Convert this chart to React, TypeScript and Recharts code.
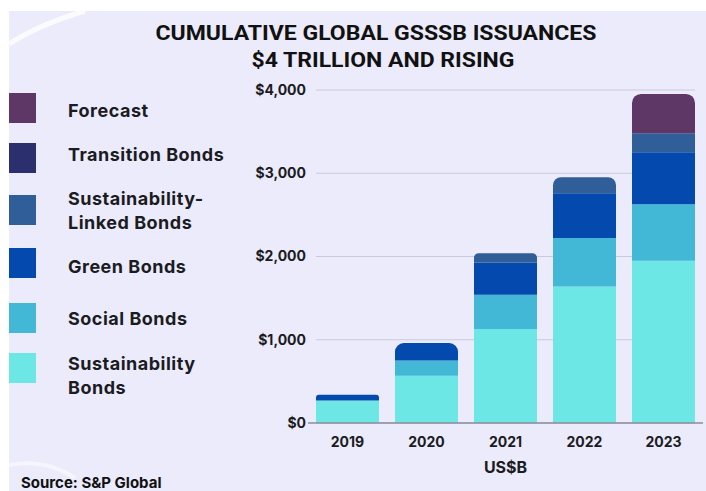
import { BarChart, Bar, XAxis, YAxis, CartesianGrid, Rectangle } from 'recharts'

const YEARS = ['2019', '2020', '2021', '2022', '2023']
const SUSTAINABILITY = [270, 568, 1128, 1640, 1948]
const SOCIAL = [0, 183, 412, 581, 681]
const GREEN = [70, 209, 388, 540, 624]
const SLB = [0, 0, 112, 192, 228]
const TRANSITION = [0, 0, 0, 0, 0]
const FORECAST = [0, 0, 0, 0, 472]
const Y_TICKS = [0, 1000, 2000, 3000, 4000]

// stack order, bottom to top
const SERIES = [
  { key: 'sustainability', name: 'Sustainability Bonds', lines: ['Sustainability', 'Bonds'], color: '#6de6e6' },
  { key: 'social', name: 'Social Bonds', lines: ['Social Bonds'], color: '#42b7d6' },
  { key: 'green', name: 'Green Bonds', lines: ['Green Bonds'], color: '#0449ad' },
  { key: 'slb', name: 'Sustainability-Linked Bonds', lines: ['Sustainability-', 'Linked Bonds'], color: '#2f5e98' },
  { key: 'transition', name: 'Transition Bonds', lines: ['Transition Bonds'], color: '#2c2f6e' },
  { key: 'forecast', name: 'Forecast', lines: ['Forecast'], color: '#5e3766' },
]

const data = YEARS.map((year, i) => ({
  year,
  sustainability: SUSTAINABILITY[i],
  social: SOCIAL[i],
  green: GREEN[i],
  slb: SLB[i],
  transition: TRANSITION[i],
  forecast: FORECAST[i],
}))

const FONT = 'Inter, "Noto Sans", sans-serif'
const BG = '#ebebfb'

const topKey = (row: any) => {
  let top = ''
  SERIES.forEach(s => { if (row[s.key] > 0) top = s.key })
  return top
}

const makeShape = (key: string) => (props: any) => (
  <Rectangle {...props} radius={topKey(props.payload) === key ? [9, 9, 0, 0] : 0} />
)

// legend layout, top to bottom (Forecast first)
const SWATCH_TOPS = [93, 143, 195, 248, 303, 353]
const LABEL_TOPS = [99, 143, 187, 255, 307, 352]

const LegendBlock = () => {
  const items = [...SERIES].reverse()
  return (
    <div style={{ position: 'absolute', left: 0, top: 0, width: 240, height: 400 }}>
      {items.map((s, i) => (
        <div key={s.key}>
          <div style={{
            position: 'absolute', left: 9, top: SWATCH_TOPS[i],
            width: 27, height: 30, background: s.color,
          }} />
          <div style={{
            position: 'absolute', left: 68, top: LABEL_TOPS[i],
            fontFamily: FONT, fontWeight: 700, fontSize: 18, letterSpacing: 0.5,
            lineHeight: '24px', color: '#1b1b22', whiteSpace: 'nowrap',
          }}>
            {s.lines.map(l => <div key={l}>{l}</div>)}
          </div>
        </div>
      ))}
    </div>
  )
}

const gridLine = (p: any) => (
  <line key={`g-${p.index}`} x1={p.x1 + 8} x2={p.x2 - 8} y1={p.y1} y2={p.y2} stroke="#c9cadc" strokeWidth={1.2} />
)

export default function App() {
  return (
    <div style={{ position: 'absolute', left: 0, top: 0, width: 706, height: 491, background: '#ffffff', overflow: 'hidden' }}>
      <div style={{ position: 'absolute', left: 9, top: 11, width: 697, height: 480, background: BG }} />
      <svg width={706} height={491} style={{ position: 'absolute', left: 0, top: 0 }}>
        <path d="M 9 44 Q 40 24 85 11" stroke="#ffffff" strokeWidth={5} fill="none" opacity={0.8} />
        <path d="M 9 465 Q 45 458 75 478" stroke="#ffffff" strokeWidth={4} fill="none" opacity={0.5} />
        <text x={376} y={40} textAnchor="middle" fontFamily='"Liberation Sans Narrow", Roboto, sans-serif'
          fontWeight={700} fontSize={20} fill="#111" textLength={441} lengthAdjust="spacingAndGlyphs">
          CUMULATIVE GLOBAL GSSSB ISSUANCES
        </text>
        <text x={383} y={67} textAnchor="middle" fontFamily='"Liberation Sans Narrow", Roboto, sans-serif'
          fontWeight={700} fontSize={20} fill="#111" textLength={263} lengthAdjust="spacingAndGlyphs">
          $4 TRILLION AND RISING
        </text>
        <text x={21} y={488} fontFamily={FONT} fontWeight={700} fontSize={15} fill="#111">Source: S&amp;P Global</text>
      </svg>
      <LegendBlock />
      <div style={{ position: 'absolute', left: 0, top: 0 }}>
        <BarChart
          width={706}
          height={491}
          data={data}
          margin={{ top: 90, right: 3, bottom: 0, left: 0 }}
          barCategoryGap={8}
        >
          <CartesianGrid vertical={false} horizontal={gridLine} />
          <XAxis
            dataKey="year"
            height={68}
            tickLine={false}
            axisLine={{ stroke: '#8d8d9c', strokeWidth: 1.5 }}
            tick={{ fontFamily: FONT, fontWeight: 700, fontSize: 14, fill: '#1b1b22' }}
            tickMargin={8}
            label={{ value: 'US$B', position: 'insideBottom', offset: 18, fontFamily: FONT, fontWeight: 700, fontSize: 16, fill: '#1b1b22' }}
          />
          <YAxis
            width={308}
            domain={[0, 4000]}
            ticks={Y_TICKS}
            interval={0}
            axisLine={false}
            tickLine={false}
            tickSize={0}
            tickMargin={2}
            tickFormatter={(v: number) => `$${v.toLocaleString('en-US')}`}
            tick={{ fontFamily: FONT, fontWeight: 700, fontSize: 14, fill: '#1b1b22' }}
          />
          {SERIES.map(s => (
            <Bar
              key={s.key}
              dataKey={s.key}
              name={s.name}
              stackId="a"
              fill={s.color}
              shape={makeShape(s.key)}
              isAnimationActive={false}
            />
          ))}
        </BarChart>
      </div>
    </div>
  )
}
